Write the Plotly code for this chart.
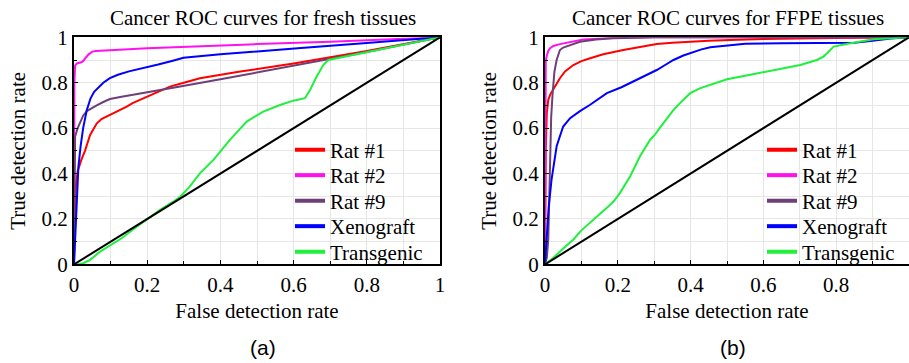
import plotly.graph_objects as go

# ---------------- data: fresh tissues (panel a) ----------------
fresh_rat1_x = [0, 0.001, 0.003, 0.006, 0.01, 0.02, 0.03, 0.044, 0.062, 0.075, 0.09, 0.11, 0.126, 0.144, 0.16, 0.18, 0.21, 0.235, 0.262, 0.3, 0.344, 0.45, 0.6, 0.8, 1.0]
fresh_rat1_y = [0, 0.15, 0.28, 0.36, 0.41, 0.46, 0.50, 0.57, 0.62, 0.64, 0.652, 0.665, 0.68, 0.695, 0.71, 0.725, 0.745, 0.765, 0.783, 0.80, 0.82, 0.848, 0.885, 0.94, 1.0]

fresh_rat2_x = [0, 0.0, 0.001, 0.003, 0.008, 0.02, 0.025, 0.032, 0.04, 0.05, 0.06, 0.2, 0.35, 0.5, 0.7, 0.9, 1.0]
fresh_rat2_y = [0, 0.6, 0.8, 0.875, 0.885, 0.89, 0.895, 0.91, 0.925, 0.937, 0.94, 0.952, 0.962, 0.97, 0.98, 0.993, 1.0]

fresh_rat9_x = [0, 0.001, 0.003, 0.01, 0.018, 0.025, 0.035, 0.05, 0.062, 0.08, 0.098, 0.13, 0.16, 0.19, 0.23, 0.262, 0.29, 0.4, 0.6, 0.8, 1.0]
fresh_rat9_y = [0, 0.45, 0.563, 0.60, 0.63, 0.655, 0.675, 0.69, 0.70, 0.715, 0.728, 0.738, 0.746, 0.754, 0.765, 0.776, 0.783, 0.815, 0.875, 0.935, 1.0]

fresh_xeno_x = [0, 0.002, 0.004, 0.008, 0.012, 0.018, 0.025, 0.035, 0.045, 0.055, 0.066, 0.08, 0.098, 0.12, 0.15, 0.19, 0.23, 0.27, 0.299, 0.4, 0.508, 0.62, 0.8, 1.0]
fresh_xeno_y = [0, 0.08, 0.14, 0.30, 0.43, 0.52, 0.60, 0.68, 0.73, 0.76, 0.776, 0.80, 0.82, 0.835, 0.85, 0.864, 0.88, 0.897, 0.91, 0.925, 0.94, 0.953, 0.975, 1.0]

fresh_trans_x = [0, 0.01, 0.025, 0.044, 0.071, 0.1, 0.13, 0.162, 0.2, 0.235, 0.27, 0.29, 0.315, 0.344, 0.381, 0.426, 0.472, 0.517, 0.563, 0.599, 0.631, 0.645, 0.663, 0.681, 0.695, 0.8, 1.0]
fresh_trans_y = [0, 0.0, 0.005, 0.02, 0.056, 0.085, 0.115, 0.155, 0.198, 0.24, 0.275, 0.298, 0.34, 0.401, 0.46, 0.548, 0.629, 0.673, 0.702, 0.721, 0.732, 0.768, 0.827, 0.878, 0.90, 0.935, 1.0]

# ---------------- data: FFPE tissues (panel b) ----------------
ffpe_rat1_x = [0, 0.001, 0.002, 0.005, 0.009, 0.015, 0.023, 0.032, 0.041, 0.055, 0.078, 0.1, 0.124, 0.16, 0.215, 0.26, 0.307, 0.35, 0.39, 0.45, 0.509, 0.6, 0.8, 1.0]
ffpe_rat1_y = [0, 0.30, 0.50, 0.666, 0.725, 0.75, 0.769, 0.795, 0.82, 0.85, 0.878, 0.895, 0.908, 0.925, 0.944, 0.957, 0.97, 0.976, 0.98, 0.985, 0.988, 0.992, 0.997, 1.0]

ffpe_rat2_x = [0, 0.001, 0.002, 0.005, 0.009, 0.014, 0.023, 0.041, 0.069, 0.105, 0.17, 0.2, 0.3, 1.0]
ffpe_rat2_y = [0, 0.60, 0.893, 0.92, 0.94, 0.952, 0.962, 0.97, 0.98, 0.99, 0.996, 0.998, 1.0, 1.0]

ffpe_rat9_x = [0, 0.005, 0.009, 0.012, 0.014, 0.017, 0.021, 0.026, 0.032, 0.041, 0.05, 0.069, 0.096, 0.14, 0.187, 0.3, 1.0]
ffpe_rat9_y = [0, 0.03, 0.11, 0.35, 0.549, 0.65, 0.754, 0.85, 0.90, 0.944, 0.955, 0.966, 0.98, 0.99, 0.996, 1.0, 1.0]

ffpe_xeno_x = [0, 0.003, 0.005, 0.01, 0.018, 0.025, 0.032, 0.04, 0.05, 0.069, 0.096, 0.124, 0.147, 0.17, 0.21, 0.243, 0.275, 0.307, 0.33, 0.353, 0.38, 0.408, 0.43, 0.454, 0.509, 0.55, 0.65, 0.75, 0.85, 0.9, 0.95, 1.0]
ffpe_xeno_y = [0, 0.08, 0.168, 0.25, 0.373, 0.45, 0.52, 0.56, 0.607, 0.644, 0.675, 0.703, 0.73, 0.754, 0.78, 0.805, 0.83, 0.856, 0.878, 0.90, 0.92, 0.937, 0.947, 0.956, 0.966, 0.972, 0.974, 0.975, 0.976, 0.985, 0.995, 1.0]

ffpe_trans_x = [0, 0.023, 0.05, 0.078, 0.1, 0.124, 0.147, 0.17, 0.19, 0.206, 0.234, 0.261, 0.289, 0.302, 0.315, 0.335, 0.353, 0.371, 0.399, 0.425, 0.454, 0.5, 0.564, 0.61, 0.655, 0.701, 0.747, 0.765, 0.775, 0.793, 0.839, 0.903, 1.0]
ffpe_trans_y = [0, 0.029, 0.07, 0.11, 0.15, 0.183, 0.215, 0.249, 0.28, 0.315, 0.388, 0.476, 0.549, 0.571, 0.60, 0.644, 0.68, 0.71, 0.754, 0.775, 0.79, 0.815, 0.835, 0.85, 0.864, 0.878, 0.90, 0.915, 0.93, 0.959, 0.974, 0.991, 1.0]

chance_x = [0, 1]
chance_y = [0, 1]

series_names = ["Rat #1", "Rat #2", "Rat #9", "Xenograft", "Transgenic"]
series_colors = ["#ff0000", "#ff10ee", "#6e3f78", "#0000ff", "#1ef03c"]
tick_vals = [0, 0.2, 0.4, 0.6, 0.8, 1]
tick_text = ["0", "0.2", "0.4", "0.6", "0.8", "1"]

fresh = [(fresh_rat1_x, fresh_rat1_y), (fresh_rat2_x, fresh_rat2_y), (fresh_rat9_x, fresh_rat9_y),
         (fresh_xeno_x, fresh_xeno_y), (fresh_trans_x, fresh_trans_y)]
ffpe = [(ffpe_rat1_x, ffpe_rat1_y), (ffpe_rat2_x, ffpe_rat2_y), (ffpe_rat9_x, ffpe_rat9_y),
        (ffpe_xeno_x, ffpe_xeno_y), (ffpe_trans_x, ffpe_trans_y)]

SERIF = "Liberation Serif"
SANS = "Liberation Sans"
W, H = 909, 363

fig = go.Figure()

legend_layouts = {}
row_centers = [150, 175.5, 201, 226.5, 252]
legend_left = [290, 762]
leg_idx = 1
for panel, (data, xa, ya) in enumerate([(fresh, "x", "y"), (ffpe, "x2", "y2")]):
    for (xs, ys), name, col in zip(data, series_names, series_colors):
        fig.add_trace(go.Scatter(x=xs, y=ys, mode="lines", name=name, showlegend=False,
                                 line=dict(color=col, width=2), xaxis=xa, yaxis=ya))
    fig.add_trace(go.Scatter(x=chance_x, y=chance_y, mode="lines", showlegend=False,
                             line=dict(color="black", width=2), xaxis=xa, yaxis=ya))
    for row, (name, col) in enumerate(zip(series_names, series_colors)):
        key = "legend" if leg_idx == 1 else f"legend{leg_idx}"
        fig.add_trace(go.Scatter(x=[None], y=[None], mode="lines", name=name, legend=key,
                                 line=dict(color=col, width=4), xaxis=xa, yaxis=ya))
        legend_layouts[key] = dict(x=legend_left[panel] / W, y=(H - row_centers[row]) / H,
                                   xanchor="left", yanchor="middle", bgcolor="rgba(0,0,0,0)",
                                   font=dict(family=SERIF, size=21, color="black"), borderwidth=0)
        leg_idx += 1

ydom = [(H - 264.4) / H, (H - 37.3) / H]

axis_common = dict(
    range=[0, 1], tickvals=tick_vals, ticktext=tick_text,
    showgrid=True, gridcolor="#e6e6e6", gridwidth=1,
    ticks="inside", ticklen=4, tickcolor="black", tickwidth=1,
    minor=dict(dtick=0.1, showgrid=True, gridcolor="#e6e6e6", ticks="inside", ticklen=3, tickcolor="black"),
    showline=True, linecolor="black", linewidth=2,
    zeroline=False, tickfont=dict(family=SERIF, size=21, color="black"),
    automargin=False,
)
title_font = dict(family=SERIF, size=21, color="black")

fig.update_layout(
    width=W, height=H, margin=dict(l=0, r=0, t=0, b=0),
    paper_bgcolor="white", plot_bgcolor="white",
    font=dict(family=SERIF, size=21, color="black"),
    showlegend=True,
    xaxis=dict(axis_common, domain=[74 / W, 440 / W], anchor="y", mirror=True, ticklabelstandoff=0,
               title=dict(text="False detection rate", font=title_font, standoff=8)),
    yaxis=dict(axis_common, domain=ydom, anchor="x", mirror=True,
               title=dict(text="True detection rate", font=title_font, standoff=10)),
    xaxis2=dict(axis_common, domain=[545 / W, 1.0], anchor="y2", mirror=True, ticklabelstandoff=0,
                title=dict(text="False detection rate", font=title_font, standoff=8)),
    yaxis2=dict(axis_common, domain=ydom, anchor="x2", mirror=False,
                title=dict(text="True detection rate", font=title_font, standoff=10)),
    annotations=[
        dict(text="Cancer ROC curves for fresh tissues", x=263 / W, y=(H - 18) / H, xref="paper", yref="paper",
             showarrow=False, font=title_font, xanchor="center", yanchor="middle"),
        dict(text="Cancer ROC curves for FFPE tissues", x=728 / W, y=(H - 18) / H, xref="paper", yref="paper",
             showarrow=False, font=title_font, xanchor="center", yanchor="middle"),
        dict(text="(a)", x=263 / W, y=(H - 347) / H, xref="paper", yref="paper",
             showarrow=False, font=dict(family=SANS, size=21, color="black"), xanchor="center", yanchor="middle"),
        dict(text="(b)", x=733 / W, y=(H - 347) / H, xref="paper", yref="paper",
             showarrow=False, font=dict(family=SANS, size=21, color="black"), xanchor="center", yanchor="middle"),
    ],
)
fig.update_layout(**legend_layouts)

fig.write_html("out.html")
